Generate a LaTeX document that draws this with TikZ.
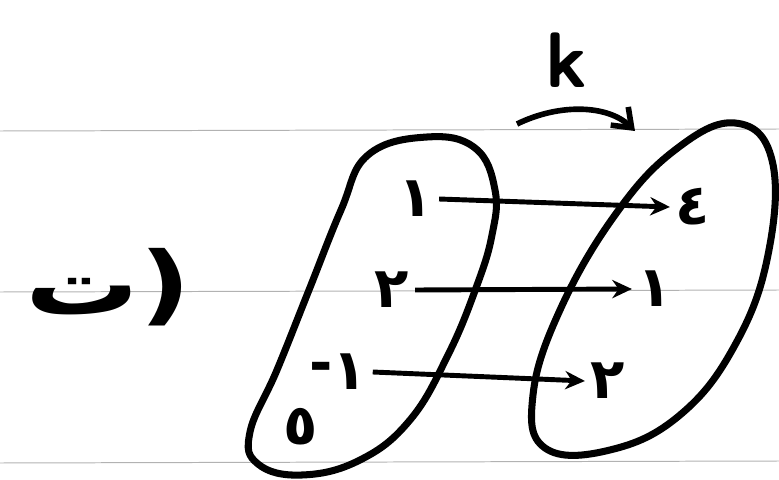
\documentclass[tikz,border=0pt]{standalone}
\usepackage{fontspec}
\newfontfamily\arabicfont[Script=Arabic]{DejaVu Sans}
\TeXXeTstate=1
\usetikzlibrary{arrows.meta}

\begin{document}
\begin{tikzpicture}[x=0.025cm,y=-0.025cm,
    rule/.style={black!30, line width=0.7pt},
    set/.style={line width=5pt, line join=round},
    digit/.style={font=\arabicfont\bfseries\fontsize{40}{40}\selectfont, inner sep=4pt},
    map/.style={line width=3.5pt, -{Stealth[length=14pt, width=13pt]}}]
  \useasboundingbox (0,0) rectangle (779,480);

  % Ruled lines
  \draw[rule] (0,131) -- (779,129);
  \draw[rule] (0,292) -- (779,290);
  \draw[rule] (0,463) -- (779,461);

  % Sets
  \draw[set] plot[smooth cycle, tension=0.7] coordinates {(427,137) (475,148) (495,190) (492,235) (476,288) (448,355) (410,420) (360,460) (302,475) (258,464) (250,432) (277,370) (309,290) (341,210) (368,155)};
  \draw[set] plot[smooth cycle, tension=0.7] coordinates {(735,123) (772,160) (768,255) (735,345) (680,415) (610,450) (545,448) (533,395) (560,310) (615,215) (675,150)};

  % Nodes
  \node[digit] (a1) at (416,199) {١};
  \node[digit] (a2) at (392,290) {٢};
  \node[digit] (am1) at (338,372) {\raisebox{5pt}{-}١};
  \node[digit] (a5) at (301,427) {٥};
  \node[digit] (b4) at (693,207) {٤};
  \node[digit] (b1) at (655,289) {١};
  \node[digit] (b2) at (608,381) {٢};
  \node[font=\sffamily\bfseries\fontsize{56}{56}\selectfont] (k) at (566,60) {k};
  \node[font=\arabicfont\bfseries\fontsize{62}{62}\selectfont, xscale=1.3, transform shape] (part) at (108,287) {\beginR(ت\endR};

  % Edges
  \draw[map] (a1.east) -- (b4.west);
  \draw[map] (a2.east) -- (b1.west);
  \draw[map] (am1.east) -- (b2.west);

  \coordinate (kstart) at (517,124);
  \coordinate (kend) at (635,131);
  \draw[line width=4pt, -{Straight Barb[length=12pt, width=18pt]}] (kstart) .. controls (560,103) and (608,105) .. (kend);
\end{tikzpicture}
\end{document}
